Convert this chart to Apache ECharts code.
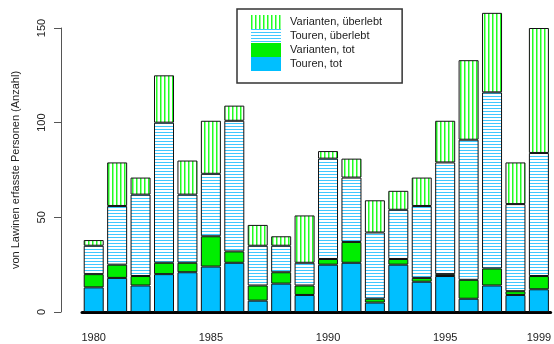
<!DOCTYPE html>
<html><head><meta charset="utf-8">
<script src="https://cdn.jsdelivr.net/npm/echarts@6/dist/echarts.min.js"></script>
<style>html,body{margin:0;padding:0;background:#fff}#c{width:554px;height:344px}</style>
</head><body><div id="c"></div>
<script>
const years = ['1980','1981','1982','1983','1984','1985','1986','1987','1988','1989','1990','1991','1992','1993','1994','1995','1996','1997','1998','1999'];
const tourenTot = [13,18,14,20,21,24,26,6,15,9,25,26,5,25,16,19,7,14,9,12];
const variantenTot = [7,7,5,6,5,16,6,8,6,5,3,11,2,3,2,1,10,9,2,7];
const tourenUeberlebt = [15,31,43,74,36,33,69,21,14,12,53,34,35,26,38,59,74,93,46,65];
const variantenUeberlebt = [3,23,9,25,18,28,8,11,5,25,4,10,17,10,15,22,42,42,22,66];
const yTicks = [0,50,100,150];
const shownLabels = ['1980','1985','1990','1995','1999'];

function stripes(vertical, color, period, lw) {
  const c = document.createElement('canvas');
  c.width = period; c.height = period;
  const ctx = c.getContext('2d');
  ctx.fillStyle = '#fff'; ctx.fillRect(0,0,period,period);
  ctx.fillStyle = color;
  if (vertical) ctx.fillRect(0,0,lw,period); else ctx.fillRect(0,0,period,lw);
  return c;
}
const greenPat = {image: stripes(true,'#22ff22',4,1.5), repeat:'repeat'};
const bluePat = {image: stripes(false,'#40c8ff',3,1), repeat:'repeat'};

const chart = echarts.init(document.getElementById('c'), null, {renderer:'canvas'});
const border = {borderColor:'#111', borderWidth:1};
function s(name, data, color) {
  return {name, type:'bar', stack:'a', data, barWidth:20, clip:false,
    itemStyle:Object.assign({color}, border), emphasis:{disabled:true}};
}
chart.setOption({
  animation:false,
  textStyle:{fontFamily:'Liberation Sans, Arial, sans-serif'},
  grid:{left:82, top:28, width:474, height:284, containLabel:false},
  legend:{
    left:237, top:9, orient:'vertical', itemWidth:30, itemHeight:14, itemGap:0, icon:'rect',
    padding:[6,20,12,14], borderColor:'#333', borderWidth:1.5, backgroundColor:'#fff',
    data:['Varianten, überlebt','Touren, überlebt','Varianten, tot','Touren, tot'],
    itemStyle:{borderWidth:0},
    textStyle:{fontSize:11, color:'#222', padding:[0,0,0,4]},
    selectedMode:false
  },
  xAxis:{type:'category', data:years,
    axisLine:{lineStyle:{color:'#000', width:3}},
    axisTick:{show:false},
    axisLabel:{interval:0, fontSize:11, color:'#222', margin:20,
      formatter:v=>shownLabels.includes(v)?v:''}
  },
  yAxis:{type:'value', min:yTicks[0], max:yTicks[yTicks.length-1], interval:50, offset:21,
    name:'von Lawinen erfasste Personen (Anzahl)', nameLocation:'middle', nameGap:40,
    nameTextStyle:{fontSize:11, color:'#222'},
    axisLine:{show:true, lineStyle:{color:'#555', width:1}},
    axisTick:{show:true, length:7, lineStyle:{color:'#555'}},
    splitLine:{show:false},
    axisLabel:{rotate:90, fontSize:11, color:'#222', margin:14}
  },
  series:[
    s('Touren, tot', tourenTot, '#00bfff'),
    s('Varianten, tot', variantenTot, '#00ee00'),
    s('Touren, überlebt', tourenUeberlebt, bluePat),
    s('Varianten, überlebt', variantenUeberlebt, greenPat)
  ]
});
</script></body></html>
